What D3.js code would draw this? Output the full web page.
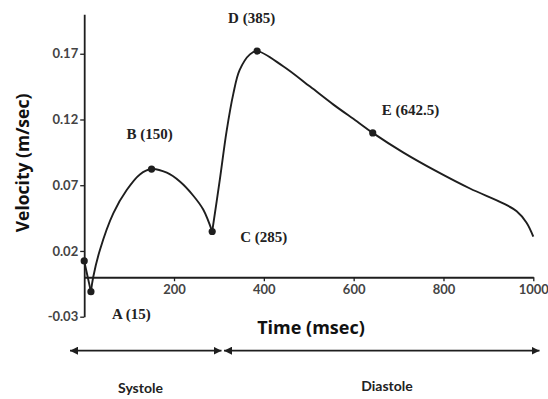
<!DOCTYPE html>
<html>
<head>
<meta charset="utf-8">
<script src="https://cdn.jsdelivr.net/npm/d3@7"></script>
<style>
  html, body { margin: 0; padding: 0; background: #fff; }
  svg { display: block; }
</style>
</head>
<body>
<svg id="chart" width="548" height="399"></svg>
<script>
// ---- data ----
const timeMs = [0, 15, 20, 35, 65, 95, 124, 150, 184, 213, 243, 265, 285,
  302, 317, 332, 346, 369, 385, 443, 503, 555, 607, 642.5, 710, 785, 859, 933, 963, 985, 1000];
const velocity = [0.0124, -0.011, 0, 0.0208, 0.0488, 0.0665, 0.0782, 0.0823, 0.0795, 0.0728, 0.0620, 0.0515, 0.0348,
  0.0742, 0.111, 0.1395, 0.1575, 0.1695, 0.172, 0.1605, 0.1450, 0.1313, 0.1186, 0.1098, 0.0950, 0.0805, 0.0675, 0.0562, 0.0502, 0.0415, 0.0309];
const markerTimes = [0, 15, 150, 285, 385, 642.5];
const pointNames = ["A", "B", "C", "D", "E"];
const pointTimes = [15, 150, 285, 385, 642.5];
const xTicks = [200, 400, 600, 800, 1000];
const yTicks = [-0.03, 0.02, 0.07, 0.12, 0.17];
const phases = ["Systole", "Diastole"];
const xTitle = "Time (msec)";
const yTitle = "Velocity (m/sec)";

// ---- layout ----
const svg = d3.select("#chart");
const x = d3.scaleLinear().domain([0, 1000]).range([84.2, 533.3]);
const y = d3.scaleLinear().domain([-0.03, 0.2]).range([316.7, 14.3]);
const ink = "#1e1e1e";

// axes
const yAxis = svg.append("g").attr("transform", "translate(84.2,0)")
  .call(d3.axisLeft(y).tickValues(yTicks).tickSize(4).tickSizeOuter(0).tickPadding(2)
    .tickFormat(d => d.toFixed(2)));
const xAxis = svg.append("g").attr("transform", `translate(0,${y(0)})`)
  .call(d3.axisBottom(x).tickValues(xTicks).tickSize(4).tickSizeOuter(0).tickPadding(4)
    .tickFormat(d3.format("d")));
[yAxis, xAxis].forEach(g => {
  g.select(".domain").attr("stroke", ink).attr("stroke-width", 1.8);
  g.selectAll(".tick line").attr("stroke", ink).attr("stroke-width", 1.3);
  g.selectAll(".tick text").attr("fill", "#444").style("font-family", "Lato, sans-serif")
    .style("font-weight", 700).style("font-size", "13px");
});

// curve, split at the cusps A and C
const pts = timeMs.map((t, i) => [t, velocity[i]]);
const iA = timeMs.indexOf(15), iC = timeMs.indexOf(285);
const segs = [pts.slice(0, iA + 1), pts.slice(iA, iC + 1), pts.slice(iC)];
const line = d3.line().x(d => x(d[0])).y(d => y(d[1])).curve(d3.curveCatmullRom.alpha(0.5));
svg.append("g").selectAll("path").data(segs).join("path")
  .attr("d", line).attr("fill", "none").attr("stroke", ink)
  .attr("stroke-width", 1.9).attr("stroke-linejoin", "round");

// markers
const vAt = t => velocity[timeMs.indexOf(t)];
svg.append("g").selectAll("circle").data(markerTimes).join("circle")
  .attr("cx", t => x(t)).attr("cy", t => y(vAt(t))).attr("r", 3.6).attr("fill", ink);

// point labels
const labelOffsets = { A: [21, 27, "start"], B: [-2, -30, "middle"], C: [28, 10, "start"],
  D: [-29, -28, "start"], E: [9, -18, "start"] };
svg.append("g").selectAll("text").data(pointNames).join("text")
  .attr("x", (n, i) => x(pointTimes[i]) + labelOffsets[n][0])
  .attr("y", (n, i) => y(vAt(pointTimes[i])) + labelOffsets[n][1])
  .attr("text-anchor", n => labelOffsets[n][2])
  .attr("fill", "#222")
  .style("font-family", "'Liberation Serif', 'Times New Roman', serif")
  .style("font-weight", 700).style("font-size", "15px")
  .text((n, i) => `${n} (${pointTimes[i]})`);

// axis titles
svg.append("text").attr("x", 311).attr("y", 334).attr("text-anchor", "middle")
  .attr("fill", "#111").style("font-family", "'Open Sans', sans-serif")
  .style("font-weight", 700).style("font-size", "18px").text(xTitle);
svg.append("text").attr("transform", "translate(29,163) rotate(-90)").attr("text-anchor", "middle")
  .attr("fill", "#111").style("font-family", "'Open Sans', sans-serif")
  .style("font-weight", 700).style("font-size", "17.5px").text(yTitle);

// phase arrows
const defs = svg.append("defs");
defs.append("marker").attr("id", "ah").attr("viewBox", "0 0 10 10").attr("refX", 10).attr("refY", 5)
  .attr("markerUnits", "userSpaceOnUse").attr("markerWidth", 8).attr("markerHeight", 8)
  .attr("orient", "auto-start-reverse")
  .append("path").attr("d", "M0,0 L10,5 L0,10 Z").attr("fill", ink);
const arrowY = 350.7;
const arrows = [[70, 221.5, 140.5, 388], [224, 539.5, 387, 386]];
svg.append("g").selectAll("line").data(arrows).join("line")
  .attr("x1", d => d[0]).attr("x2", d => d[1]).attr("y1", arrowY).attr("y2", arrowY)
  .attr("stroke", ink).attr("stroke-width", 1.8)
  .attr("marker-start", "url(#ah)").attr("marker-end", "url(#ah)");
svg.append("g").selectAll("text").data(phases).join("text")
  .attr("x", (p, i) => arrows[i][2]).attr("y", (p, i) => arrows[i][3] + 5)
  .attr("text-anchor", "middle").attr("fill", "#222")
  .style("font-family", "Lato, sans-serif").style("font-weight", 700).style("font-size", "14px")
  .text(p => p);
</script>
</body>
</html>
